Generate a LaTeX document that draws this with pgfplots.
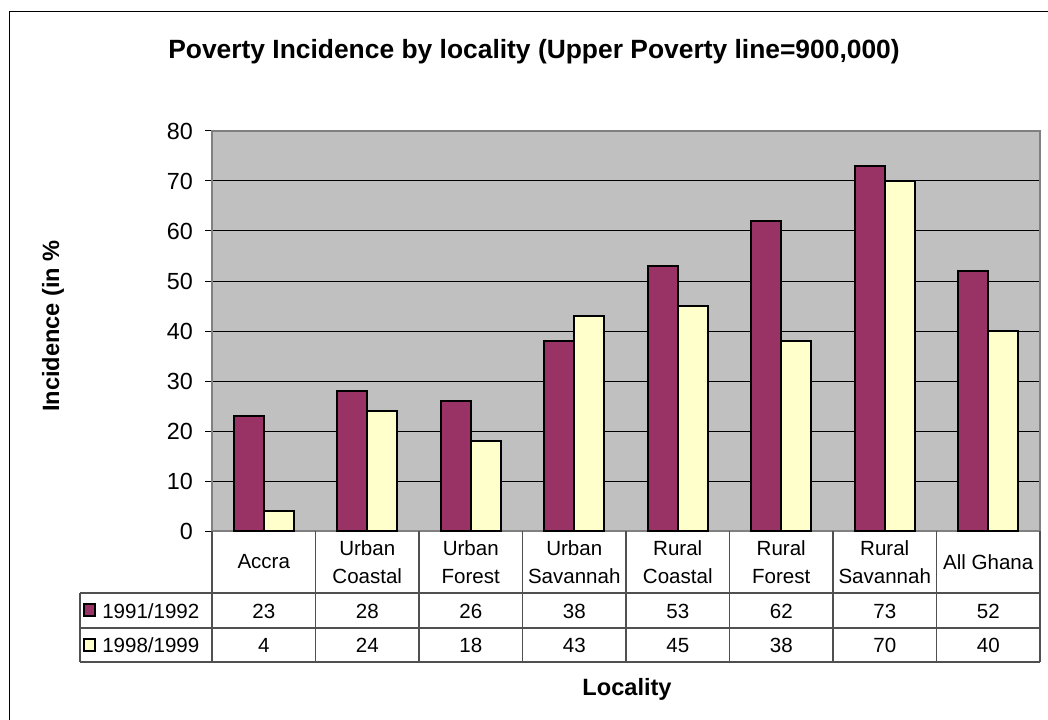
\documentclass[border=0pt]{standalone}
\usepackage{pgfplots}
\usepackage{pgfplotstable}
\usepackage{fontspec}
\setmainfont{Liberation Sans}
\pgfplotsset{compat=1.18}
\definecolor{plum}{HTML}{993366}
\definecolor{cream}{HTML}{FFFFCC}
\definecolor{plotgray}{HTML}{C0C0C0}
\definecolor{framegray}{HTML}{808080}
\definecolor{tablegray}{HTML}{505050}
\pgfplotstableread{
idx a b
0 23 4
1 28 24
2 26 18
3 38 43
4 53 45
5 62 38
6 73 70
7 52 40
}\data
\begin{document}
\begin{tikzpicture}
\useasboundingbox (0,0) rectangle (786pt,-540pt);
\begin{scope}[x=0.75pt,y=-0.75pt]
\draw[black, line width=0.75pt] (9,722) -- (9,12) -- (1050,12);
\node[font=\fontsize{19.8}{24}\selectfont\bfseries, anchor=base] at (534,59) {Poverty Incidence by locality (Upper Poverty line=900,000)};
\node[font=\fontsize{17.7}{21}\selectfont\bfseries, rotate=90] at (53,326) {Incidence (in \%};
\node[font=\fontsize{17.7}{21}\selectfont\bfseries, anchor=base] at (627,695) {Locality};
\end{scope}
\begin{axis}[
  at={(159pt,-398.25pt)}, anchor=south west,
  scale only axis, width=621pt, height=300pt,
  xmin=-0.5, xmax=7.5, ymin=0, ymax=80,
  ytick={0,10,...,80}, xtick=\empty, ytick pos=left,
  ybar=0pt, bar width=22.5pt,
  axis background/.style={fill=plotgray},
  ymajorgrids, grid style={black, line width=0.75pt},
  axis line style={framegray, line width=1.5pt},
  tick align=outside, major tick length=5.25pt,
  ytick style={black, line width=0.75pt},
  tick label style={font=\fontsize{17.5}{20}\selectfont},
  /pgf/number format/assume math mode=true,
  yticklabel style={inner sep=0pt, anchor=east, xshift=-9pt},
]
\addplot[fill=plum, draw=black, line width=1.6pt] table[x=idx, y=a] {\data};
\addplot[fill=cream, draw=black, line width=1.6pt] table[x=idx, y=b] {\data};
\end{axis}
\begin{scope}[x=0.75pt,y=-0.75pt]
\foreach \k in {0,...,8} {
  \draw[tablegray, line width=0.9pt] ({212+103.5*\k},531) -- ({212+103.5*\k},662);
}
\draw[tablegray, line width=0.9pt] (80,593) -- (80,662);
\foreach \yy in {593,628,662} {
  \draw[tablegray, line width=0.9pt] (80,\yy) -- (1040,\yy);
}
\foreach \lab [count=\c from 0] in {Accra,Urban\\Coastal,Urban\\Forest,Urban\\Savannah,Rural\\Coastal,Rural\\Forest,Rural\\Savannah,All Ghana} {
  \node[font=\fontsize{15.4}{21}\selectfont, align=center] at ({212+103.5*(\c+0.5)},562) {\lab};
}
\foreach \i in {0,...,7} {
  \pgfplotstablegetelem{\i}{a}\of\data
  \node[font=\fontsize{15.4}{21}\selectfont, anchor=base] at ({212+103.5*(\i+0.5)},618) {\pgfplotsretval};
  \pgfplotstablegetelem{\i}{b}\of\data
  \node[font=\fontsize{15.4}{21}\selectfont, anchor=base] at ({212+103.5*(\i+0.5)},652.5) {\pgfplotsretval};
}
\draw[fill=plum, draw=black, line width=1.5pt] (84,604) rectangle (95,616);
\draw[fill=cream, draw=black, line width=1.5pt] (84,638.5) rectangle (95,650.5);
\node[font=\fontsize{15.4}{21}\selectfont, anchor=base west, inner sep=0pt] at (102,618) {1991/1992};
\node[font=\fontsize{15.4}{21}\selectfont, anchor=base west, inner sep=0pt] at (102,652.5) {1998/1999};
\end{scope}
\end{tikzpicture}
\end{document}
